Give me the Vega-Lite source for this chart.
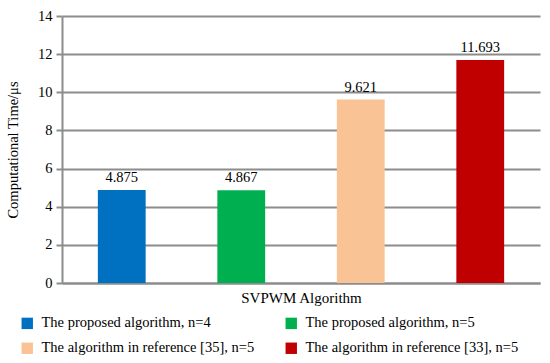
{
  "$schema": "https://vega.github.io/schema/vega-lite/v6.json",
  "width": 478,
  "height": 267,
  "autosize": {"type": "none"},
  "padding": {"left": 62, "top": 16, "right": 10, "bottom": 80},
  "background": "white",
  "config": {
    "font": "Liberation Serif",
    "view": {"stroke": null}
  },
  "data": {
    "values": [
      {"algo": "The proposed algorithm, n=4", "time": 4.875},
      {"algo": "The proposed algorithm, n=5", "time": 4.867},
      {"algo": "The  algorithm in reference  [35], n=5", "time": 9.621},
      {"algo": "The  algorithm in reference [33], n=5", "time": 11.693}
    ]
  },
  "encoding": {
    "x": {
      "field": "algo",
      "type": "nominal",
      "sort": null,
      "scale": {"paddingInner": 0.6, "paddingOuter": 0.3},
      "axis": {
        "title": "SVPWM Algorithm",
        "labels": false,
        "ticks": false,
        "domainColor": "#8c8c8c",
        "domainWidth": 2,
        "titleFont": "Liberation Serif",
        "titleFontSize": 15,
        "titleFontWeight": "normal",
        "titleColor": "black",
        "titlePadding": 7
      }
    },
    "y": {
      "field": "time",
      "type": "quantitative",
      "scale": {"domain": [0, 14], "nice": false},
      "axis": {
        "title": "Computational Time/μs",
        "values": [0, 2, 4, 6, 8, 10, 12, 14],
        "gridColor": "#8c8c8c",
        "gridWidth": 2,
        "domainColor": "#8c8c8c",
        "domainWidth": 2,
        "tickColor": "#8c8c8c",
        "tickWidth": 2,
        "tickSize": 6,
        "labelFont": "Liberation Serif",
        "labelFontSize": 14.5,
        "labelColor": "black",
        "labelPadding": 4,
        "titleFont": "Liberation Serif",
        "titleFontSize": 14.5,
        "titleFontWeight": "normal",
        "titleColor": "black",
        "titlePadding": 17
      }
    }
  },
  "layer": [
    {
      "mark": {"type": "bar"},
      "encoding": {
        "color": {
          "field": "algo",
          "type": "nominal",
          "sort": null,
          "scale": {
            "domain": [
              "The proposed algorithm, n=4",
              "The  algorithm in reference  [35], n=5",
              "The proposed algorithm, n=5",
              "The  algorithm in reference [33], n=5"
            ],
            "range": ["#0070C0", "#F9C395", "#00B050", "#C00000"]
          },
          "legend": {
            "title": null,
            "orient": "none",
            "legendX": -42,
            "legendY": 300,
            "columns": 2,
            "columnPadding": 22,
            "rowPadding": 10,
            "symbolType": "square",
            "symbolSize": 130,
            "symbolStrokeWidth": 0,
            "labelFont": "Liberation Serif",
            "labelFontSize": 14.5,
            "labelColor": "black",
            "labelLimit": 400,
            "labelOffset": 7
          }
        }
      }
    },
    {
      "mark": {"type": "text", "baseline": "bottom", "dy": -5, "fontSize": 14.5, "font": "Liberation Serif", "color": "black"},
      "encoding": {
        "text": {"field": "time", "type": "quantitative", "format": ".3f"}
      }
    }
  ]
}
